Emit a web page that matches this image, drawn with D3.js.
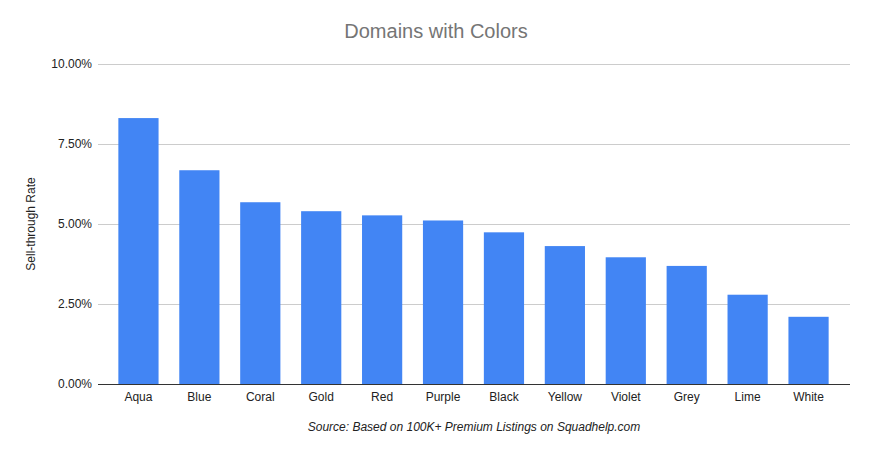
<!DOCTYPE html>
<html><head><meta charset="utf-8">
<script src="https://cdn.jsdelivr.net/npm/d3@7"></script>
<style>body{margin:0;background:#fff}svg{font-family:Arial,"Liberation Sans",sans-serif}</style>
</head><body>
<script>
const categories = ["Aqua","Blue","Coral","Gold","Red","Purple","Black","Yellow","Violet","Grey","Lime","White"];
const values = [8.31,6.68,5.68,5.40,5.27,5.11,4.74,4.31,3.96,3.69,2.79,2.10];
const tickValues = [0,2.5,5,7.5,10];

const W=872,H=455;
const svg=d3.select("body").append("svg").attr("width",W).attr("height",H);
const x=d3.scaleBand().domain(categories).range([108,839]).paddingInner(0.34).paddingOuter(0.17);
const y=d3.scaleLinear().domain([0,10]).range([384,64]);

svg.append("g").selectAll("line").data(tickValues).join("line")
  .attr("x1",98).attr("x2",850).attr("y1",d=>y(d)).attr("y2",d=>y(d))
  .attr("stroke",d=>d===0?"#333":"#ccc").attr("stroke-width",1).attr("shape-rendering","crispEdges");
svg.append("g").selectAll("text").data(tickValues).join("text")
  .attr("x",92).attr("y",d=>y(d)+4).attr("text-anchor","end").attr("font-size",12).attr("fill","#222")
  .text(d=>d.toFixed(2)+"%");
svg.append("g").selectAll("rect").data(values).join("rect")
  .attr("x",(d,i)=>x(categories[i])).attr("width",x.bandwidth())
  .attr("y",d=>y(d)).attr("height",d=>y(0)-y(d)).attr("fill","#4285f4");
svg.append("g").selectAll("text").data(categories).join("text")
  .attr("x",d=>x(d)+x.bandwidth()/2).attr("y",401).attr("text-anchor","middle")
  .attr("font-size",12).attr("fill","#222").text(d=>d);
svg.append("text").attr("x",436).attr("y",38).attr("text-anchor","middle").attr("font-size",20).attr("fill","#757575").text("Domains with Colors");
svg.append("text").attr("transform","translate(35,224) rotate(-90)").attr("text-anchor","middle").attr("font-size",12).attr("fill","#222").text("Sell-through Rate");
svg.append("text").attr("x",474).attr("y",431).attr("text-anchor","middle").attr("font-size",12).attr("font-style","italic").attr("fill","#222").text("Source: Based on 100K+ Premium Listings on Squadhelp.com");
</script>
</body></html>
